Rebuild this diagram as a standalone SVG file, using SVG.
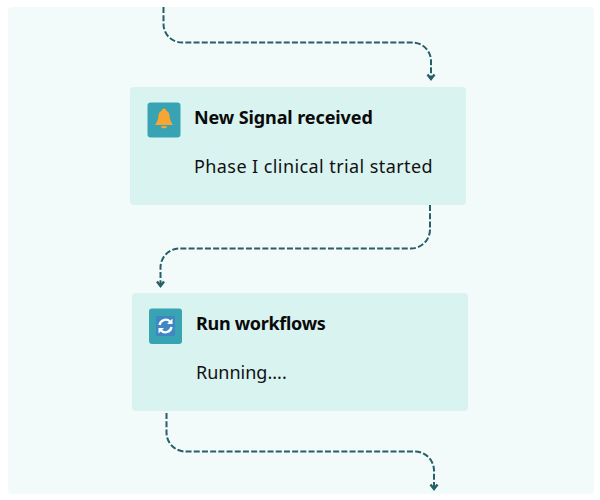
<svg xmlns="http://www.w3.org/2000/svg" width="600" height="500" viewBox="0 0 600 500">
<style>
.card{fill:#d9f3f0}
.tile{fill:#38a3b3}
.title{font:700 18px "Noto Sans",sans-serif;fill:#0a0a0a;letter-spacing:-.1px}
.sub{font:400 18px "Noto Sans",sans-serif;fill:#111;letter-spacing:.42px}
.wire{fill:none;stroke:#255f68;stroke-width:2;stroke-dasharray:6 2.200}
.head{fill:none;stroke:#255f68;stroke-width:2.400}
</style>
<rect width="600" height="500" fill="#fff"/>
<rect x="8" y="7" width="586" height="487" rx="4" fill="#f2fafa"/>
<g id="connectors">
<path class="wire" d="M163.500 7V24A18.500 18.500 0 0 0 182 42.500H412.500A18.500 18.500 0 0 1 431 61V78"/>
<path class="head" d="M427.500 74.500L431 79L434.500 74.500"/>
<path class="wire" d="M430 205V229.500A19 19 0 0 1 411 248.500H179.500A19 19 0 0 0 160.500 267.500V284"/>
<path class="head" d="M157 281.500L160.500 286L164 281.500"/>
<path class="wire" d="M166.500 413V432.500A19 19 0 0 0 185.500 451.500H415A19 19 0 0 1 434 470.500V487"/>
<path class="head" d="M430.500 484.500L434 489L437.500 484.500"/>
</g>
<g id="node-signal">
<rect class="card" x="130" y="87" width="336" height="118" rx="4"/>
<rect class="tile" x="147.500" y="102.500" width="33" height="35" rx="3"/>
<path fill="#f9a534" d="M164 108.500c-1.500 0-2.200 1-2.300 2.200c-2.500 1-3.200 3.200-3.400 6c-.2 2.800-1 5-2.800 7.200v1.100h17v-1.100c-1.800-2.200-2.600-4.400-2.800-7.200c-.2-2.800-.9-5-3.400-6c-.1-1.200-.8-2.200-2.300-2.200z"/>
<rect x="161.500" y="126" width="5" height="2.200" fill="#f9a534"/>
<text class="title" x="194" y="124">New Signal received</text>
<text class="sub" x="194" y="173">Phase I clinical trial started</text>
</g>
<g id="node-workflows">
<rect class="card" x="132" y="293" width="336" height="118" rx="4"/>
<rect class="tile" x="149" y="308.500" width="33" height="35.500" rx="3"/>
<rect x="156" y="316" width="19" height="20" rx="1" fill="#3f86c4"/>
<path fill="none" stroke="#fff" stroke-width="2.400" d="M159.500 325a6.200 6.200 0 0 1 10.500-3.500M171.500 327a6.200 6.200 0 0 1-10.500 3.500"/>
<path fill="#fff" d="M172.500 318.500v5.500h-5.500zM158.500 333.500v-5.500h5.500z"/>
<text class="title" x="196" y="330" style="letter-spacing:-.3px">Run workflows</text>
<text class="sub" x="196" y="379" style="letter-spacing:0">Running....</text>
</g>
</svg>
